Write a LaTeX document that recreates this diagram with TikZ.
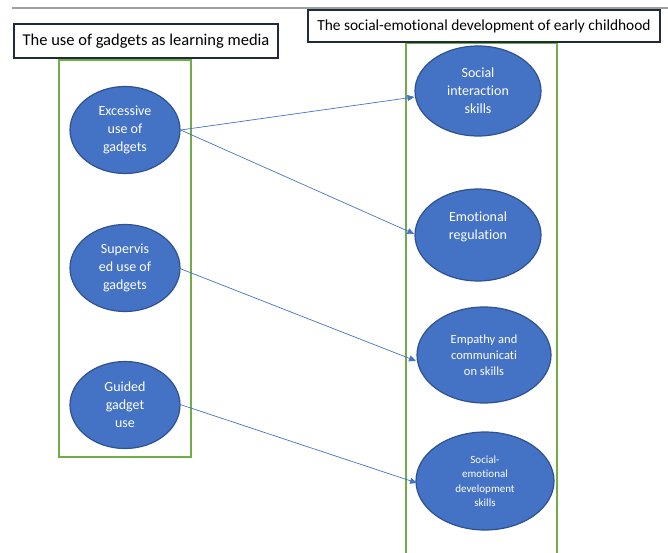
\documentclass[tikz,border=0pt]{standalone}
\usepackage{fontspec}
\setmainfont{Carlito}[Ligatures=NoCommon]
\usetikzlibrary{arrows.meta,shapes.geometric}
\definecolor{ellfill}{HTML}{4472C4}
\definecolor{elldraw}{HTML}{2F528F}
\definecolor{arrowc}{HTML}{4472C4}
\definecolor{greenc}{HTML}{70AD47}
\definecolor{navy}{HTML}{1F2A3C}
\tikzset{
  bubble/.style={ellipse, fill=ellfill, draw=elldraw, line width=1.2pt, inner sep=0pt,
    text=white, align=center, font=\fontsize{14}{18}\selectfont},
  titlebox/.style={draw=navy, line width=1.6pt, fill=white, inner sep=0pt, text=black},
  greenbox/.style={draw=greenc, line width=1.4pt},
  link/.style={draw=arrowc, line width=0.7pt, -{Triangle[length=7pt,width=6pt]}}
}
\begin{document}
\begin{tikzpicture}[x=1pt,y=-1pt]
\useasboundingbox (0,0) rectangle (668,553);
% top rule
\draw[color=black!38, line width=1.5pt] (12,8) -- (668,8);
% green group frames
\draw[greenbox] (59,60) rectangle (191,457);
\draw[greenbox] (406,43) rectangle (557,556);
% title boxes
\node[titlebox, minimum width=264pt, minimum height=34pt, font=\fontsize{16.5}{18}\selectfont] (ltitle) at (146,41) {The use of gadgets as learning media};
\node[titlebox, minimum width=352pt, minimum height=32pt, font=\fontsize{15.4}{18}\selectfont] (rtitle) at (484,26) {The social-emotional development of early childhood};
% left ellipses
\node[bubble, minimum width=110pt, minimum height=87pt] (l1) at (125,130) {Excessive\\use of\\gadgets};
\node[bubble, minimum width=110pt, minimum height=87pt] (l2) at (125,268) {Supervis\\ed use of\\gadgets};
\node[bubble, minimum width=110pt, minimum height=87pt] (l3) at (125,405) {Guided\\gadget\\use};
% right ellipses
\node[bubble, minimum width=126pt, minimum height=90pt] (r1) at (478,91) {Social\\interaction\\skills};
\node[bubble, minimum width=126pt, minimum height=92pt] (r2) at (478,235) {Emotional\\regulation\\\mbox{}};
\node[bubble, minimum width=134pt, minimum height=96pt, font=\fontsize{12.5}{16}\selectfont] (r3) at (484,355) {Empathy and\\communicati\\on skills};
\node[bubble, minimum width=138pt, minimum height=98pt, font=\fontsize{11}{14.5}\selectfont] (r4) at (485,481) {Social-\\emotional\\development\\skills};
% connectors
\draw[link] (l1.east) ++(0,0) coordinate (s1) -- (r1.west |- 0,97);
\draw[link] (s1) -- (r2.west |- 0,234);
\draw[link] (l2.east) ++(-2,0) -- (416,361);
\draw[link] (l3.east) ++(-2,-1) -- (417,483);
\end{tikzpicture}
\end{document}
